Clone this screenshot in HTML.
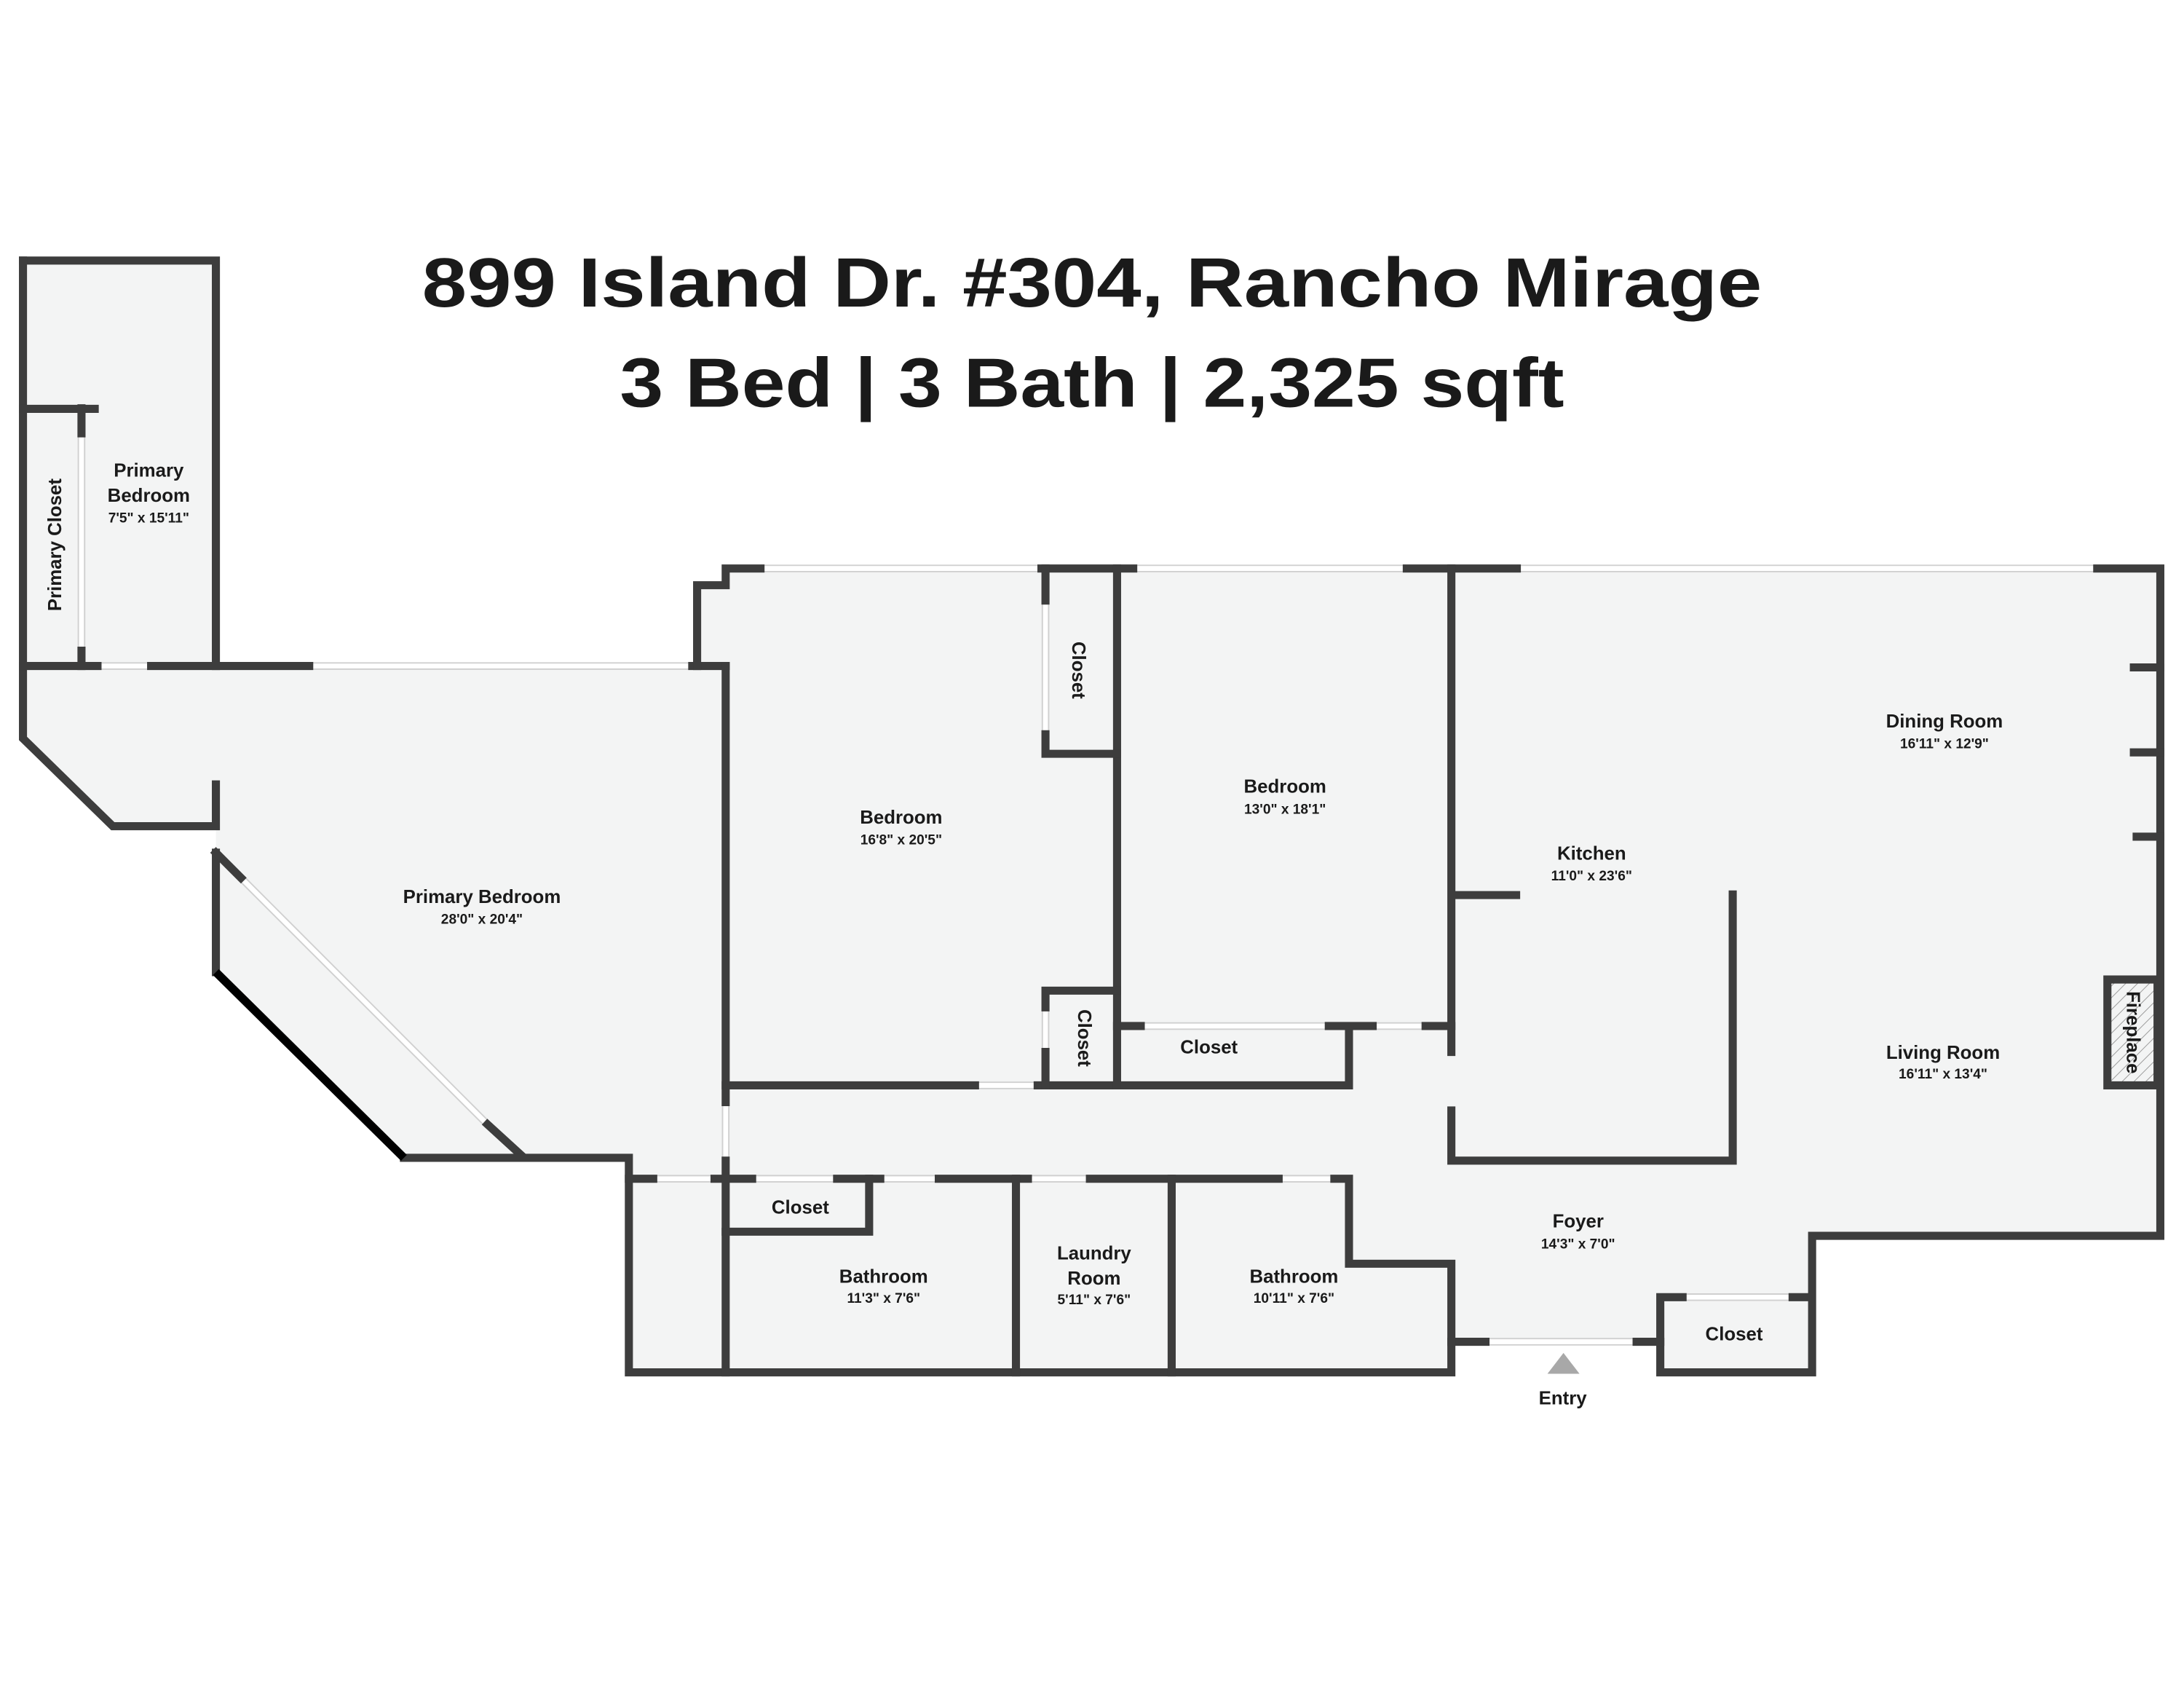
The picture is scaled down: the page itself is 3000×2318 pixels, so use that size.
<!DOCTYPE html>
<html><head><meta charset="utf-8"><style>
html,body{margin:0;padding:0;background:#fff;}
svg{display:block;}
text{font-family:"Liberation Sans",sans-serif;font-weight:bold;fill:#1a1a1a;text-anchor:middle;}
.n{font-size:13.5px;}
.d{font-size:10px;}
</style></head><body>
<svg width="3000" height="2318" viewBox="0 0 1568 1211.5" xmlns="http://www.w3.org/2000/svg">
<defs>
<pattern id="h" width="6" height="6" patternUnits="userSpaceOnUse" patternTransform="rotate(45)">
<rect width="6" height="6" fill="#f3f4f4"/><line x1="0" y1="0" x2="0" y2="6" stroke="#999" stroke-width="1"/>
</pattern>
</defs>
<rect width="1568" height="1211.5" fill="#fff"/>
<text x="784" y="220" style="font-size:50px" textLength="962" lengthAdjust="spacingAndGlyphs" fill="#000">899 Island Dr. #304, Rancho Mirage</text>
<text x="784" y="292" style="font-size:50px" textLength="678" lengthAdjust="spacingAndGlyphs" fill="#000">3 Bed | 3 Bath | 2,325 sqft</text>

<polygon fill="#f3f4f4" points="16.5,187 155,187 155,478 500.5,478 500.5,420 521,420 521,408 1551,408 1551,887 1301,887 1301,985 1192,985 1192,963 1042,963 1042,985 451.5,985 451.5,831 290,831 155,697.7 155,593 81,593 16.5,530"/>
<rect x="1513" y="703" width="36" height="76" fill="url(#h)"/>

<g fill="none" stroke="#d0d0d0" stroke-width="5.5">
<path d="M58.5 311V467M70 478H108.5M222 478H497M546 408H747.7M813.6 408H1010M1089 408H1505.7M750.6 431V527M750.6 723V755M700 779H745M521 791V833M469 846H513M540 846H601M632 846H674M738 846H782.5M918 846H958M819 736.4H954M985.5 736.4H1023.5M1208 931H1287M1066.5 963H1175M173 630L350 807"/>
</g>
<g fill="none" stroke="#fff" stroke-width="3.5">
<path d="M58.5 311V467M70 478H108.5M222 478H497M546 408H747.7M813.6 408H1010M1089 408H1505.7M750.6 431V527M750.6 723V755M700 779H745M521 791V833M469 846H513M540 846H601M632 846H674M738 846H782.5M918 846H958M819 736.4H954M985.5 736.4H1023.5M1208 931H1287M1066.5 963H1175M173 630L350 807"/>
</g>

<g fill="none" stroke="#3d3d3d" stroke-width="5.8" stroke-linecap="square" stroke-linejoin="miter">
<path d="M16.5 187H155V478"/>
<path d="M16.5 187V530L81 593H155V563"/>
<path d="M155 612V697.7"/>
<path d="M155 612L173 630M350 807L374.5 829.4"/>
<path d="M16.5 293.4H68M58.5 293V311M58.5 467V478"/>
<path d="M16.5 478H70M108.5 478H222M497 478H521"/>
<path d="M500.5 478V420H521V408H546M747.7 408H813.6M1010 408H1089"/>
<path d="M1505.7 408H1551V887H1301V985H1192V931H1208M1287 931H1301"/>
<path d="M1532 479H1551M1532 540H1551M1534 600.5H1551"/>
<path d="M1513 703H1549V779H1513Z"/>
<path d="M1042 963H1066.5M1175 963H1192"/>
<path d="M1042 408V755M1042 797V833H1244V642M1042 642.4H1088.5"/>
<path d="M290 831H451.5V985H1042V907H968.5V846H958"/>
<path d="M451.5 846H469M513 846H540M601 846H632M674 846H738M782.5 846H918"/>
<path d="M624 846V884H521"/>
<path d="M521 478V791M521 833V985M729.4 846V985M841.2 846V985"/>
<path d="M521 779H700M745 779H968.5V736.4H954M802 736.4H819M968.5 736.4H985.5M1023.5 736.4H1042"/>
<path d="M802 408V779"/>
<path d="M750.6 408V431M750.6 527V541H802"/>
<path d="M750.6 755V779M750.6 723V711H802"/>
</g>
<path d="M155 697.7L290 831" stroke="#000" stroke-width="6" fill="none"/>
<polygon points="1122.5,971 1111,986 1134,986" fill="#a8a8a8"/>

<text class="n" x="106.8" y="342">Primary</text>
<text class="n" x="106.8" y="360">Bedroom</text>
<text class="d" x="106.8" y="375">7'5" x 15'11"</text>
<text class="n" transform="translate(44 391) rotate(-90)">Primary Closet</text>
<text class="n" x="346" y="648">Primary Bedroom</text>
<text class="d" x="346" y="663">28'0" x 20'4"</text>
<text class="n" x="647" y="591">Bedroom</text>
<text class="d" x="647" y="606">16'8" x 20'5"</text>
<text class="n" x="922.6" y="569">Bedroom</text>
<text class="d" x="922.6" y="584">13'0" x 18'1"</text>
<text class="n" transform="translate(770 481) rotate(90)">Closet</text>
<text class="n" transform="translate(774 745) rotate(90)">Closet</text>
<text class="n" x="868" y="756">Closet</text>
<text class="n" x="574.6" y="871">Closet</text>
<text class="n" x="634.4" y="920.6">Bathroom</text>
<text class="d" x="634.4" y="935">11'3" x 7'6"</text>
<text class="n" x="785.5" y="904">Laundry</text>
<text class="n" x="785.5" y="922">Room</text>
<text class="d" x="785.5" y="936">5'11" x 7'6"</text>
<text class="n" x="929" y="920.6">Bathroom</text>
<text class="d" x="929" y="935">10'11" x 7'6"</text>
<text class="n" x="1396" y="522">Dining Room</text>
<text class="d" x="1396" y="537">16'11" x 12'9"</text>
<text class="n" x="1142.7" y="617">Kitchen</text>
<text class="d" x="1142.7" y="632">11'0" x 23'6"</text>
<text class="n" x="1395" y="760">Living Room</text>
<text class="d" x="1395" y="774">16'11" x 13'4"</text>
<text class="n" transform="translate(1527 741) rotate(90)">Fireplace</text>
<text class="n" x="1133" y="881">Foyer</text>
<text class="d" x="1133" y="896">14'3" x 7'0"</text>
<text class="n" x="1245" y="962">Closet</text>
<text class="n" x="1122" y="1008">Entry</text>
</svg>
</body></html>
